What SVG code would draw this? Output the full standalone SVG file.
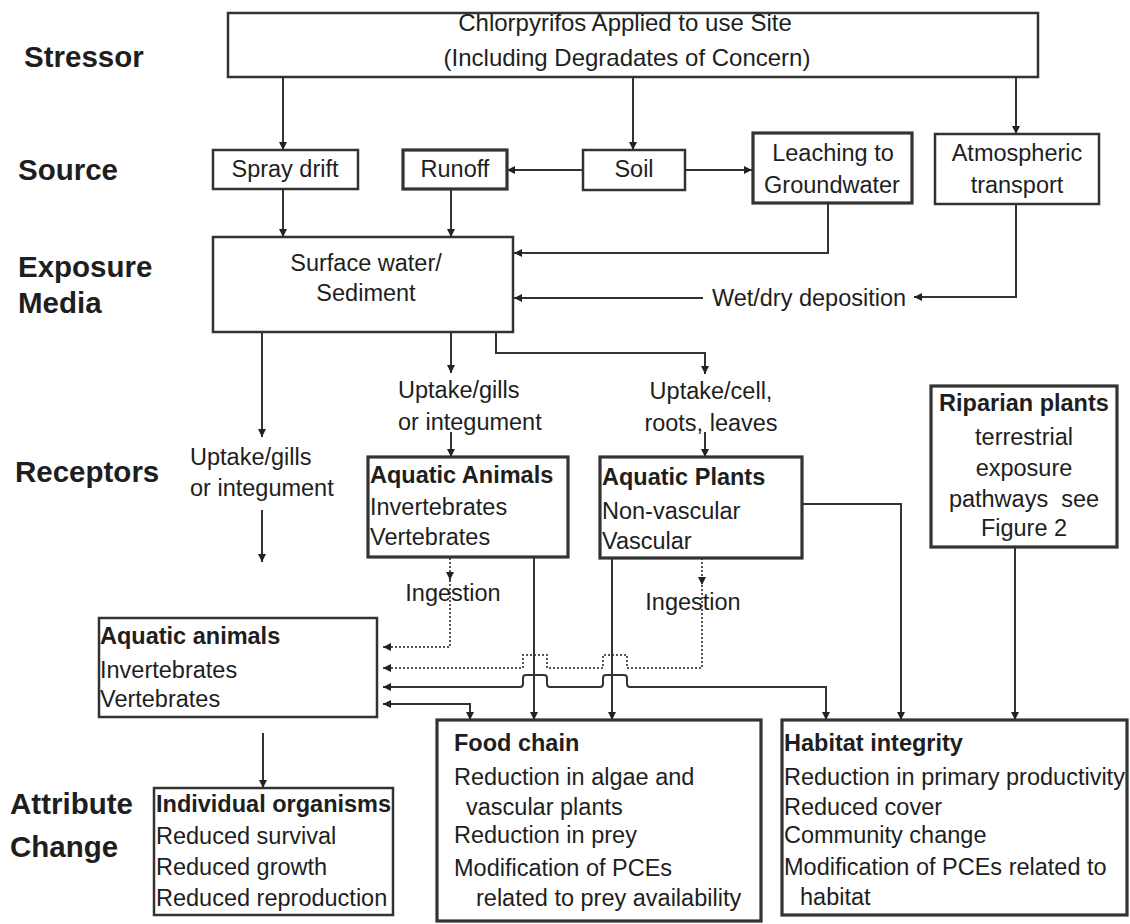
<svg xmlns="http://www.w3.org/2000/svg" width="1130" height="924" viewBox="0 0 1130 924">
  <style>
    text { font-family: "Liberation Sans", Arial, sans-serif; fill: #1e1e1e; }
    .lbl { font-size: 29.5px; font-weight: bold; }
    .t { font-size: 23.5px; }
    .b { font-weight: bold; }
    .m { text-anchor: middle; }
    .box { fill: #fff; stroke: #333; stroke-width: 2.5; }
    .thick { stroke-width: 3.2; }
    .ln { fill: none; stroke: #333; stroke-width: 2; }
    .dot { stroke-dasharray: 2 2; stroke: #555; }
  </style>
  <defs>
    <marker id="arr" markerUnits="userSpaceOnUse" markerWidth="9" markerHeight="8" refX="8" refY="4" orient="auto-start-reverse">
      <path d="M0,0 L8,4 L0,8 z" fill="#222"/>
    </marker>
  </defs>
  <rect width="1130" height="924" fill="#fff"/>

  <!-- tier labels -->
  <g id="tier-labels">
    <text class="lbl" x="24" y="67">Stressor</text>
    <text class="lbl" x="18" y="180">Source</text>
    <text class="lbl" x="18" y="277">Exposure</text>
    <text class="lbl" x="18" y="313">Media</text>
    <text class="lbl" x="15" y="482">Receptors</text>
    <text class="lbl" x="10" y="814">Attribute</text>
    <text class="lbl" x="10" y="857">Change</text>
  </g>

  <!-- connectors -->
  <g id="connectors">
    <path class="ln" d="M283 77 V150" marker-end="url(#arr)"/>
    <path class="ln" d="M633 77 V150" marker-end="url(#arr)"/>
    <path class="ln" d="M1016 77 V134" marker-end="url(#arr)"/>
    <path class="ln" d="M583 170 H507" marker-end="url(#arr)"/>
    <path class="ln" d="M685 170 H752" marker-end="url(#arr)"/>
    <path class="ln" d="M283 189 V237" marker-end="url(#arr)"/>
    <path class="ln" d="M451 189 V237" marker-end="url(#arr)"/>
    <path class="ln" d="M828 203 V253 H514" marker-end="url(#arr)"/>
    <path class="ln" d="M1016 204 V297 H914" marker-end="url(#arr)"/>
    <path class="ln" d="M703 298 H514" marker-end="url(#arr)"/>

    <!-- surface water to receptors -->
    <path class="ln" d="M262 332 V437" marker-end="url(#arr)"/>
    <path class="ln" d="M262 510 V562" marker-end="url(#arr)"/>
    <path class="ln" d="M451 332 V373" marker-end="url(#arr)"/>
    <path class="ln" d="M451 432 V457" marker-end="url(#arr)"/>
    <path class="ln" d="M496 332 V353 H705 V374" marker-end="url(#arr)"/>
    <path class="ln" d="M705 432 V457" marker-end="url(#arr)"/>

    <!-- ingestion (dotted) -->
    <path class="ln dot" d="M450 558 V580" marker-end="url(#arr)"/>
    <path class="ln dot" d="M450 580 V647 H383" marker-end="url(#arr)"/>
    <path class="ln dot" d="M702 558 V585" marker-end="url(#arr)"/>
    <path class="ln dot" d="M702 585 V668 H627 V655 H603 V668 H547 V655 H523 V668 H383" marker-end="url(#arr)"/>

    <!-- solid links into the attribute boxes -->
    <path class="ln" d="M383 687 H520 Q523 687 523 684 V678 Q523 675 526 675 H544 Q547 675 547 678 V684 Q547 687 550 687 H600 Q603 687 603 684 V678 Q603 675 606 675 H624 Q627 675 627 678 V684 Q627 687 630 687 H826 V720" marker-start="url(#arr)" marker-end="url(#arr)"/>
    <path class="ln" d="M383 704 H470 V720" marker-start="url(#arr)" marker-end="url(#arr)"/>
    <path class="ln" d="M534 558 V720" marker-end="url(#arr)"/>
    <path class="ln" d="M612 559 V720" marker-end="url(#arr)"/>
    <path class="ln" d="M802 504 H901 V720" marker-end="url(#arr)"/>
    <path class="ln" d="M1015 547 V720" marker-end="url(#arr)"/>
    <path class="ln" d="M263 733 V788" marker-end="url(#arr)"/>
  </g>

  <!-- free-standing pathway labels -->
  <g id="pathway-labels">
    <text class="t" x="809" y="306" text-anchor="middle">Wet/dry deposition</text>
    <text class="t" x="190" y="465">Uptake/gills</text>
    <text class="t" x="190" y="496">or integument</text>
    <text class="t" x="398" y="398">Uptake/gills</text>
    <text class="t" x="398" y="430">or integument</text>
    <text class="t m" x="711" y="399">Uptake/cell,</text>
    <text class="t m" x="711" y="431">roots, leaves</text>
    <text class="t m" x="453" y="601">Ingestion</text>
    <text class="t m" x="693" y="610">Ingestion</text>
  </g>

  <g id="stressor">
    <rect class="box" x="228" y="13" width="810" height="64"/>
    <text class="t m" x="625" y="31" style="font-size:24px">Chlorpyrifos Applied to use Site</text>
    <text class="t m" x="627" y="66" style="font-size:24px">(Including Degradates of Concern)</text>
  </g>

  <g id="spray-drift">
    <rect class="box" x="213" y="150" width="145" height="39"/>
    <text class="t m" x="285" y="177">Spray drift</text>
  </g>

  <g id="runoff">
    <rect class="box thick" x="403" y="150" width="104" height="39"/>
    <text class="t m" x="455" y="177">Runoff</text>
  </g>

  <g id="soil">
    <rect class="box" x="583" y="150" width="102" height="40"/>
    <text class="t m" x="634" y="177">Soil</text>
  </g>

  <g id="leaching">
    <rect class="box thick" x="753" y="133" width="159" height="70"/>
    <text class="t m" x="833" y="161">Leaching to</text>
    <text class="t m" x="832" y="193">Groundwater</text>
  </g>

  <g id="atmospheric">
    <rect class="box" x="935" y="134" width="164" height="70"/>
    <text class="t m" x="1017" y="161">Atmospheric</text>
    <text class="t m" x="1017" y="193">transport</text>
  </g>

  <g id="surface-water">
    <rect class="box" x="213" y="237" width="300" height="95"/>
    <text class="t m" x="366" y="271">Surface water/</text>
    <text class="t m" x="366" y="301">Sediment</text>
  </g>

  <g id="aquatic-animals-receptor">
    <rect class="box thick" x="368" y="457" width="200" height="100"/>
    <text class="t b" x="370" y="483">Aquatic Animals</text>
    <text class="t" x="370" y="515">Invertebrates</text>
    <text class="t" x="370" y="545">Vertebrates</text>
  </g>

  <g id="aquatic-plants-receptor">
    <rect class="box thick" x="600" y="457" width="202" height="101"/>
    <text class="t b" x="602" y="485">Aquatic Plants</text>
    <text class="t" x="602" y="519">Non-vascular</text>
    <text class="t" x="602" y="549">Vascular</text>
  </g>

  <g id="riparian-plants">
    <rect class="box thick" x="931" y="386" width="186" height="161"/>
    <text class="t b m" x="1024" y="411">Riparian plants</text>
    <text class="t m" x="1024" y="445">terrestrial</text>
    <text class="t m" x="1024" y="476">exposure</text>
    <text class="t m" x="1024" y="507" xml:space="preserve">pathways  see</text>
    <text class="t m" x="1024" y="536">Figure 2</text>
  </g>

  <g id="aquatic-animals">
    <rect class="box" x="99" y="618" width="278" height="99"/>
    <text class="t b" x="100" y="644">Aquatic animals</text>
    <text class="t" x="100" y="678">Invertebrates</text>
    <text class="t" x="100" y="707">Vertebrates</text>
  </g>

  <g id="individual-organisms">
    <rect class="box" x="154" y="788" width="239" height="127"/>
    <text class="t b" x="156" y="812">Individual organisms</text>
    <text class="t" x="156" y="844">Reduced survival</text>
    <text class="t" x="156" y="875">Reduced growth</text>
    <text class="t" x="156" y="906">Reduced reproduction</text>
  </g>

  <g id="food-chain">
    <rect class="box thick" x="437" y="720" width="324" height="201"/>
    <text class="t b" x="454" y="751">Food chain</text>
    <text class="t" x="454" y="785">Reduction in algae and</text>
    <text class="t" x="466" y="815">vascular plants</text>
    <text class="t" x="454" y="843">Reduction in prey</text>
    <text class="t" x="454" y="876">Modification of PCEs</text>
    <text class="t" x="476" y="906">related to prey availability</text>
  </g>

  <g id="habitat-integrity">
    <rect class="box thick" x="782" y="720" width="345" height="195"/>
    <text class="t b" x="784" y="751">Habitat integrity</text>
    <text class="t" x="784" y="785">Reduction in primary productivity</text>
    <text class="t" x="784" y="815">Reduced cover</text>
    <text class="t" x="784" y="843">Community change</text>
    <text class="t" x="784" y="875">Modification of PCEs related to</text>
    <text class="t" x="800" y="905">habitat</text>
  </g>
</svg>
